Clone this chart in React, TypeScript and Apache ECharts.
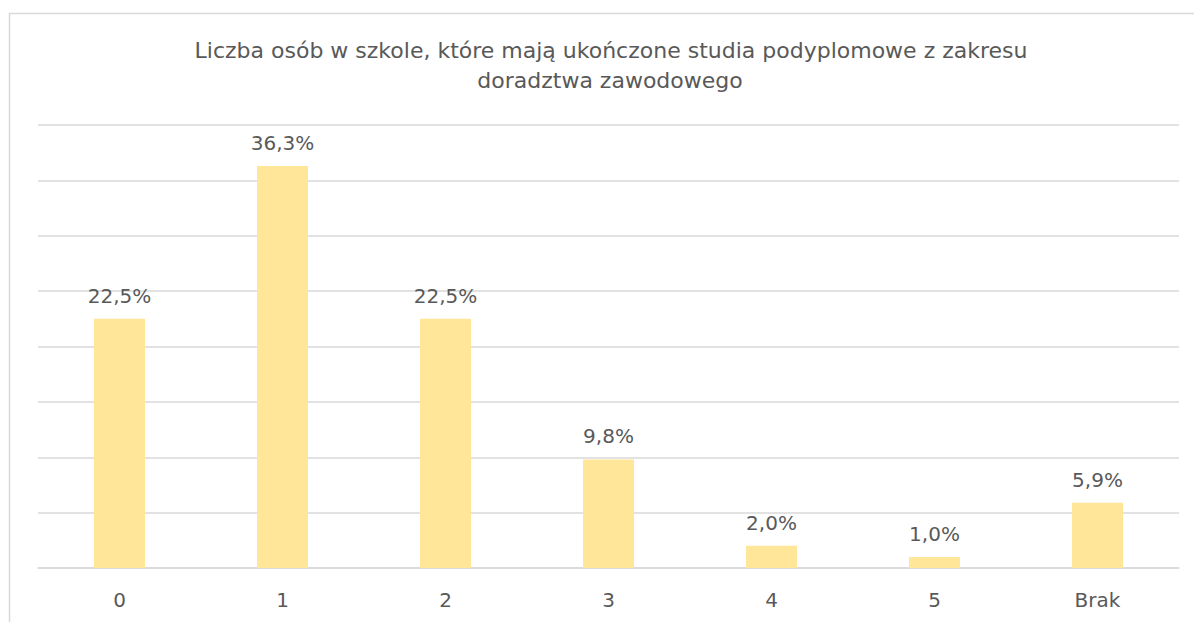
import React, { useEffect, useRef } from "react";
import * as echarts from "echarts";

const titleLines = [
  "Liczba osób w szkole, które mają ukończone studia podyplomowe z zakresu",
  "doradztwa zawodowego",
];
const categories = ["0", "1", "2", "3", "4", "5", "Brak"];
const values = [22.5, 36.3, 22.5, 9.8, 2.0, 1.0, 5.9];

const FONT = "'DejaVu Sans', sans-serif";
const TEXT = "#595959";

export default function App() {
  const ref = useRef<HTMLDivElement>(null);
  useEffect(() => {
    document.body.style.margin = "0";
    const chart = echarts.init(ref.current!, null, { renderer: "svg" });
    chart.setOption({
      animation: false,
      backgroundColor: "#ffffff",
      graphic: [
        {
          type: "rect",
          shape: { x: 9.5, y: 13.5, width: 1300, height: 800 },
          style: { fill: "none", stroke: "#d9d9d9", lineWidth: 1.5 },
          silent: true,
        },
        {
          type: "text",
          x: 611,
          y: 50,
          style: {
            text: titleLines[0],
            fill: TEXT,
            font: `22px ${FONT}`,
            align: "center",
            verticalAlign: "middle",
          },
        },
        {
          type: "text",
          x: 610,
          y: 80,
          style: {
            text: titleLines[1],
            fill: TEXT,
            font: `22px ${FONT}`,
            align: "center",
            verticalAlign: "middle",
          },
        },
      ],
      grid: { left: 38, right: 15, top: 125, bottom: 54, containLabel: false },
      xAxis: {
        type: "category",
        data: categories,
        axisLine: { lineStyle: { color: "#d9d9d9", width: 1.5 } },
        axisTick: { show: false },
        axisLabel: { color: TEXT, fontSize: 20, fontFamily: FONT, margin: 22 },
      },
      yAxis: {
        type: "value",
        min: 0,
        max: 40,
        interval: 5,
        axisLabel: { show: false },
        axisLine: { show: false },
        axisTick: { show: false },
        splitLine: { lineStyle: { color: "#d9d9d9", width: 1.5 } },
      },
      series: [
        {
          type: "bar",
          data: values,
          barWidth: 51,
          itemStyle: { color: "#FFE699" },
          label: {
            show: true,
            position: "top",
            distance: 13,
            color: TEXT,
            fontSize: 20,
            fontFamily: FONT,
            formatter: (p: any) => p.value.toFixed(1).replace(".", ",") + "%",
          },
        },
      ],
    });
    return () => chart.dispose();
  }, []);
  return (
    <div
      ref={ref}
      style={{ position: "absolute", left: 0, top: 0, width: 1194, height: 622 }}
    />
  );
}
